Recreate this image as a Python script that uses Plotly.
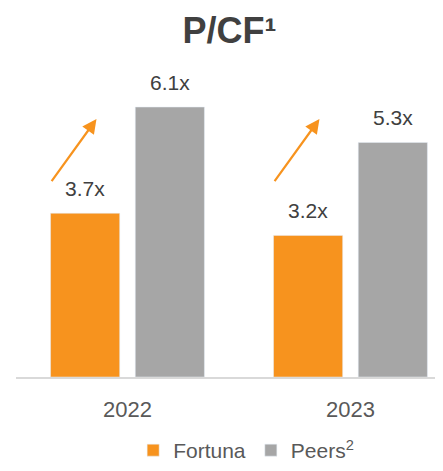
import plotly.graph_objects as go

years = ["2022", "2023"]
fortuna = [3.7, 3.2]
peers = [6.1, 5.3]
fortuna_labels = ["3.7x", "3.2x"]
peers_labels = ["6.1x", "5.3x"]

ORANGE = "#F7931E"
GRAY = "#A6A6A6"
FONT = "Liberation Sans"

fig = go.Figure()
fig.add_trace(go.Bar(x=[0, 1], y=fortuna, name="Fortuna", marker_color=ORANGE))
fig.add_trace(go.Bar(x=[0, 1], y=peers, name="Peers<sup>2</sup>", marker_color=GRAY))

bargap = 0.24
groupgap = 0.184
off = (1 - bargap) / 4
bw = (1 - bargap) / 2 * (1 - groupgap)

annotations = []
for i in range(len(years)):
    annotations.append(dict(x=i - off, y=fortuna[i], xref="x", yref="y", text=fortuna_labels[i],
                            showarrow=False, yanchor="bottom", yshift=11,
                            font=dict(size=21, color="#404040", family=FONT)))
    annotations.append(dict(x=i + off, y=peers[i], xref="x", yref="y", text=peers_labels[i],
                            showarrow=False, yanchor="bottom", yshift=11,
                            font=dict(size=21, color="#404040", family=FONT)))
    # decorative arrow from Fortuna toward Peers
    x0 = i - off - bw / 2
    annotations.append(dict(x=x0 + 0.206, y=5.83, ax=x0, ay=4.39, xref="x", yref="y",
                            axref="x", ayref="y", text="", showarrow=True,
                            arrowhead=2, arrowsize=1.3, arrowwidth=2.2, arrowcolor=ORANGE))

fig.update_layout(
    width=443, height=471,
    margin=dict(l=8, r=8, t=55, b=96),
    paper_bgcolor="white", plot_bgcolor="white",
    barmode="group", bargap=bargap, bargroupgap=groupgap,
    title=dict(text="<b>P/CF¹</b>", x=0.5, xref="container", xanchor="center",
               y=0.952, yanchor="middle",
               font=dict(size=36, color="#404040", family=FONT)),
    xaxis=dict(range=[-0.5, 1.415], tickvals=[0, 1], ticktext=years, showline=True,
               linecolor="#D9D9D9", linewidth=2, showgrid=False, zeroline=False,
               tickfont=dict(size=22, color="#595959", family=FONT), ticks="",
               ticklabelstandoff=12),
    yaxis=dict(range=[0, 7.095], visible=False, showgrid=False, zeroline=False),
    legend=dict(orientation="h", x=0.539, xanchor="center", y=-0.234, yanchor="middle",
                font=dict(size=21, color="#595959", family=FONT), itemwidth=30,
                traceorder="normal"),
    annotations=annotations,
    showlegend=True,
)

fig.write_html("out.html")
